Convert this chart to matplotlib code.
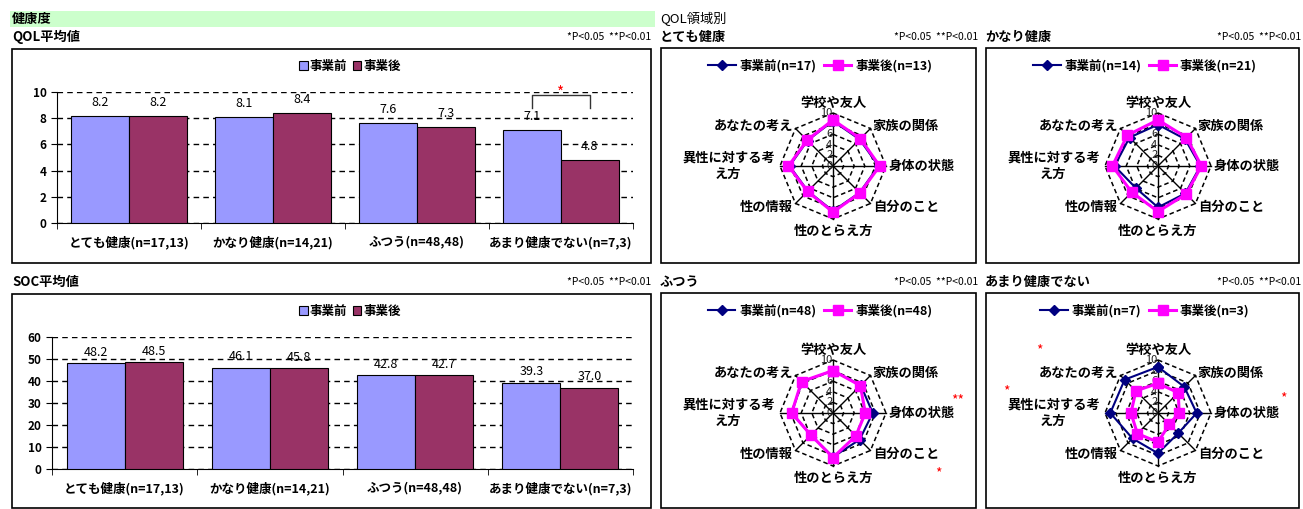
## QOL / SOC before-after summary by health level
import matplotlib
matplotlib.use('Agg')
import matplotlib.pyplot as plt
import numpy as np
from matplotlib.patches import Rectangle
from matplotlib.lines import Line2D

plt.rcParams['font.family'] = ['Noto Sans CJK JP', 'DejaVu Sans']

W, H = 1303, 509

groups = ['とても健康(n=17,13)', 'かなり健康(n=14,21)', 'ふつう(n=48,48)', 'あまり健康でない(n=7,3)']
qol_pre = [8.2, 8.1, 7.6, 7.1]
qol_post = [8.2, 8.4, 7.3, 4.8]
soc_pre = [48.2, 46.1, 42.8, 39.3]
soc_post = [48.5, 45.8, 42.7, 37.0]

domains = ['学校や友人', '家族の関係', '身体の状態', '自分のこと', '性のとらえ方',
           '性の情報', '異性に対する考\nえ方', 'あなたの考え']
panel_titles = ['とても健康', 'かなり健康', 'ふつう', 'あまり健康でない']
n_pre = [17, 14, 48, 7]
n_post = [13, 21, 48, 3]
radar_pre = [
    [8.5, 7.1, 8.6, 7.1, 8.5, 6.7, 8.2, 6.8],
    [7.8, 7.2, 8.0, 7.3, 7.8, 5.9, 8.2, 7.6],
    [8.0, 7.4, 7.5, 7.1, 8.3, 5.9, 7.8, 8.3],
    [8.7, 7.0, 7.3, 5.4, 7.6, 6.8, 9.0, 8.9],
]
radar_post = [
    [8.7, 7.3, 8.8, 7.2, 8.7, 6.8, 8.4, 6.9],
    [8.7, 7.6, 8.2, 7.5, 8.6, 7.0, 8.6, 8.2],
    [8.0, 7.3, 6.1, 6.1, 8.4, 5.9, 7.8, 8.4],
    [5.6, 5.4, 4.0, 3.0, 5.5, 5.5, 5.1, 5.9],
]

c_pre, c_post = '#9999FF', '#993366'
c_rpre, c_rpost = '#000080', '#FF00FF'
ptext = '*P<0.05  **P<0.01'


def px(x0, y0, x1, y1):
    return [x0 / W, 1 - y1 / H, (x1 - x0) / W, (y1 - y0) / H]


def ftext(x, y, s, **kw):
    fig.text(x / W, 1 - y / H, s, **kw)


def box(x0, y0, x1, y1, **kw):
    fig.add_artist(Rectangle((x0 / W, 1 - y1 / H), (x1 - x0) / W, (y1 - y0) / H,
                             transform=fig.transFigure, **kw))


fig = plt.figure(figsize=(W / 100, H / 100), dpi=100, facecolor='white')

# headers
box(10, 11, 655, 27, facecolor='#CCFFCC', edgecolor='none')
ftext(12, 19, '健康度', fontsize=9.5, fontweight='bold', va='center')
ftext(660, 19, 'QOL領域別', fontsize=9.5, va='center')


def bar_panel(top, title, pre, post, rect, ymax, step, off):
    ftext(12, top, title, fontsize=9.5, fontweight='bold', va='center')
    ftext(651, top, ptext, fontsize=7.5, ha='right', va='center')
    box(12, top + 12, 651, top + 226, facecolor='none', edgecolor='black', lw=1.2)
    ax = fig.add_axes(px(*rect))
    x = np.arange(len(groups))
    b1 = ax.bar(x - 0.2, pre, 0.4, color=c_pre, edgecolor='black', lw=0.8, label='事業前', zorder=3)
    b2 = ax.bar(x + 0.2, post, 0.4, color=c_post, edgecolor='black', lw=0.8, label='事業後', zorder=3)
    for bars, vals in ((b1, pre), (b2, post)):
        for b, v in zip(bars, vals):
            ax.annotate(f'{v:.1f}', (b.get_x() + b.get_width() / 2, v), xytext=(0, off),
                        textcoords='offset points', ha='center', va='bottom', fontsize=9)
    ax.set_xlim(-0.5, 3.5)
    ax.set_ylim(0, ymax)
    ax.set_yticks(np.arange(0, ymax + 1, step))
    ax.yaxis.grid(True, color='black', lw=1, ls=(0, (4, 3)))
    ax.set_axisbelow(True)
    ax.set_xticks(x)
    ax.set_xticklabels(groups, fontsize=9, fontweight='bold')
    ax.set_xticks(np.arange(-0.5, 4, 1), minor=True)
    ax.tick_params(axis='x', which='major', length=0, pad=9)
    ax.tick_params(axis='x', which='minor', length=4, direction='out')
    ax.tick_params(axis='y', labelsize=8.5, length=4, direction='out')
    for t in ax.get_yticklabels():
        t.set_fontweight('bold')
    for s in ('top', 'right'):
        ax.spines[s].set_visible(False)
    ax.legend(loc='center', bbox_to_anchor=(350 / W, 1 - (top + 29) / H),
              bbox_transform=fig.transFigure, ncol=2, frameon=False,
              prop={'size': 9, 'weight': 'bold'}, handlelength=0.7, handleheight=0.7,
              handletextpad=0.2, columnspacing=0.4)
    return ax


ax1 = bar_panel(37, 'QOL平均値', qol_pre, qol_post, (57, 92, 633, 223), 10, 2, 5)
# significance bracket on the last group
ax1.plot([2.8, 2.8, 3.2, 3.2], [8.8, 9.8, 9.8, 8.8], color='#333333', lw=1, zorder=4)
ax1.text(3.0, 9.9, '*', color='red', ha='center', va='center', fontsize=11)
bar_panel(282, 'SOC平均値', soc_pre, soc_post, (52, 337, 633, 469), 60, 10, 3)

# radar panels
angles = np.arange(len(domains)) * 2 * np.pi / len(domains)
ang_c = np.append(angles, angles[0])
lab_pos = [(10.6, 'center', 'bottom'), (10.6, 'left', 'center'), (10.4, 'left', 'center'),
           (10.8, 'left', 'center'), (11.0, 'center', 'top'), (10.8, 'right', 'center'),
           (11.0, 'right', 'center'), (10.6, 'right', 'center')]
panel_geo = [(660, 37, 661, 976, 833, 166), (985, 37, 986, 1299, 1158, 166),
             (660, 282, 661, 976, 833, 413), (985, 282, 986, 1299, 1158, 413)]
R = 53

for i in range(4):
    tx, ty, bx0, bx1, cx, cy = panel_geo[i]
    ftext(tx, ty, panel_titles[i], fontsize=9.5, fontweight='bold', va='center')
    ftext(bx1 + 2, ty, ptext, fontsize=7.5, ha='right', va='center')
    box(bx0, ty + 11, bx1, ty + 226, facecolor='none', edgecolor='black', lw=1.2)
    ax = fig.add_axes(px(cx - R, cy - R, cx + R, cy + R), projection='polar')
    ax.set_theta_zero_location('N')
    ax.set_theta_direction(-1)
    ax.set_ylim(0, 10)
    ax.grid(False)
    ax.spines['polar'].set_visible(False)
    ax.set_xticks([])
    ax.set_yticks([])
    ax.patch.set_alpha(0)
    for r in (2, 4, 6, 8, 10):
        ax.plot(ang_c, [r] * len(ang_c), color='black', lw=1.1, ls=(0, (3, 2)), clip_on=False)
    for a in angles:
        ax.plot([a, a], [0, 10], color='black', lw=1, clip_on=False)
    for r in (0, 2, 4, 6, 8, 10):
        ax.annotate(str(r), (0, r), xytext=(-0.5, 0), textcoords='offset points',
                    ha='right', va='center', fontsize=8, color='#222222')
    for a, lab, (rr, ha, va) in zip(angles, domains, lab_pos):
        ax.text(a, rr, lab, ha=ha, va=va, fontsize=9.5, fontweight='bold',
                multialignment='center')
    ax.plot(ang_c, radar_pre[i] + radar_pre[i][:1], color=c_rpre, lw=1.5, marker='D',
            ms=5, clip_on=False, zorder=3)
    ax.plot(ang_c, radar_post[i] + radar_post[i][:1], color=c_rpost, lw=2.2, marker='s',
            ms=6.5, clip_on=False, zorder=4)
    handles = [Line2D([], [], color=c_rpre, lw=1.5, marker='D', ms=5),
               Line2D([], [], color=c_rpost, lw=2.2, marker='s', ms=6.5)]
    labels = [f'事業前(n={n_pre[i]})', f'事業後(n={n_post[i]})']
    ax.legend(handles, labels, loc='center', bbox_to_anchor=((cx - 13) / W, 1 - (ty + 29) / H),
              bbox_transform=fig.transFigure, ncol=2, frameon=False,
              prop={'size': 9, 'weight': 'bold'}, handlelength=2.2, handletextpad=0.3,
              columnspacing=0.6)

# significance marks on radar panels
for x, y, s in [(958, 400, '**'), (938, 473, '*'), (1039, 350, '*'), (1006, 391, '*'), (1283, 398, '*')]:
    ftext(x, y, s, color='red', fontsize=10, ha='center', va='center')

fig.savefig('out.png', dpi=100)
